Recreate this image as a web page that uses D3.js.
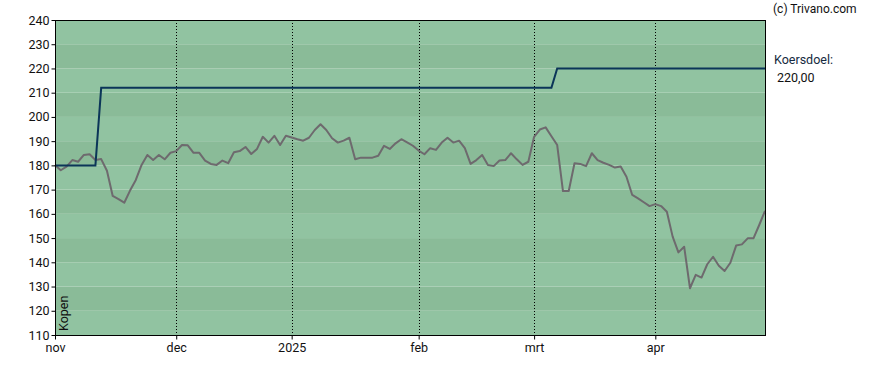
<!DOCTYPE html>
<html>
<head>
<meta charset="utf-8">
<script src="https://cdn.jsdelivr.net/npm/d3@7"></script>
<style>
  body { margin: 0; background: #fff; }
  svg text { font-family: Roboto, "Liberation Sans", sans-serif; }
</style>
</head>
<body>
<script>
// Daily closing prices, one per trading day (nov 2024 - apr 2025)
const prices = [
  180.2, 178.0, 179.5, 182.2, 181.5, 184.3, 184.6, 182.2, 182.6, 177.8,
  167.4, 166.1, 164.6, 169.6, 174.0, 180.2, 184.3, 182.2, 184.3, 182.5,
  185.2, 185.9, 188.4, 188.3, 185.2, 185.2, 182.0, 180.6, 180.2, 182.0,
  180.9, 185.4, 185.9, 187.6, 184.7, 186.8, 191.8, 189.4, 192.2, 188.4,
  192.2, 191.5, 190.8, 190.2, 191.4, 194.6, 197.0, 194.6, 191.2, 189.4,
  190.2, 191.4, 182.5, 183.2, 183.2, 183.2, 184.0, 188.1, 186.8, 189.1,
  190.8, 189.5, 188.1, 186.1, 184.6, 187.1, 186.4, 189.4, 191.4, 189.4,
  190.2, 187.1, 180.6, 182.2, 184.3, 180.2, 179.7, 182.0, 182.2, 185.0,
  182.5, 180.2, 181.5, 191.8, 194.8, 195.7, 192.0, 188.4, 169.4, 169.4,
  180.9, 180.6, 179.7, 185.0, 182.2, 181.1, 180.2, 179.1, 179.5, 175.3,
  167.8, 166.4, 164.8, 163.2, 164.0, 163.2, 160.9, 150.6, 144.1, 146.4,
  129.3, 134.8, 133.7, 139.2, 142.3, 138.6, 136.4, 139.8, 146.9, 147.4,
  149.9, 149.9, 155.4, 161.2
];

// Price target (koersdoel) steps, by trading-day index
const targetIdx = [0, 7, 8, 86, 87, 123];
const targetVals = [180, 180, 212, 212, 220, 220];

// Month ticks, by trading-day index
const monthIdx = [0, 21, 41, 63, 83, 104];
const monthLabels = ["nov", "dec", "2025", "feb", "mrt", "apr"];

const yTicks = d3.range(110, 241, 10);

const width = 888, height = 370;
const margin = { top: 20, right: 123, bottom: 35, left: 55 };

const svg = d3.select("body").append("svg")
  .attr("width", width)
  .attr("height", height);

const x = d3.scaleLinear()
  .domain([0, prices.length - 1])
  .range([margin.left, width - margin.right]);

const y = d3.scaleLinear()
  .domain([110, 240])
  .range([height - margin.bottom, margin.top]);

// striped background bands
svg.append("g").selectAll("rect")
  .data(yTicks.slice(0, -1))
  .join("rect")
  .attr("x", x(0))
  .attr("width", x(prices.length - 1) - x(0))
  .attr("y", d => y(d + 10))
  .attr("height", d => y(d) - y(d + 10))
  .attr("fill", d => ((d - 110) / 10) % 2 === 0 ? "#91c3a1" : "#8abb98");

// vertical dotted month lines
svg.append("g").selectAll("line")
  .data(monthIdx.slice(1))
  .join("line")
  .attr("x1", d => Math.round(x(d)) + 0.5)
  .attr("x2", d => Math.round(x(d)) + 0.5)
  .attr("y1", y(240))
  .attr("y2", y(110))
  .attr("stroke", "#000")
  .attr("stroke-dasharray", "1,2");

// price line
svg.append("path")
  .datum(prices)
  .attr("fill", "none")
  .attr("stroke", "#6e6a6e")
  .attr("stroke-width", 2)
  .attr("stroke-linejoin", "round")
  .attr("d", d3.line().x((d, i) => x(i)).y(d => y(d)));

// target line
svg.append("path")
  .datum(targetIdx)
  .attr("fill", "none")
  .attr("stroke", "#0b3558")
  .attr("stroke-width", 2)
  .attr("d", d3.line().x(d => x(d)).y((d, i) => y(targetVals[i])));

// frame
svg.append("rect")
  .attr("x", x(0) + 0.5)
  .attr("y", y(240) + 0.5)
  .attr("width", x(prices.length - 1) - x(0))
  .attr("height", y(110) - y(240))
  .attr("fill", "none")
  .attr("stroke", "#000");

// axes
const yAxis = svg.append("g")
  .attr("transform", `translate(${x(0) + 0.5},0)`)
  .call(d3.axisLeft(y).tickValues(yTicks).tickSize(4).tickPadding(2));

const xAxis = svg.append("g")
  .attr("transform", `translate(0,${y(110) + 0.5})`)
  .call(d3.axisBottom(x).tickValues(monthIdx)
    .tickFormat((d, i) => monthLabels[i]).tickSize(4).tickPadding(4));

[yAxis, xAxis].forEach(g => {
  g.select(".domain").remove();
  g.selectAll("line").attr("stroke", "#000");
  g.selectAll("text").attr("fill", "#111").style("font-size", "12.5px");
});

// "Kopen" label
svg.append("text")
  .attr("transform", `translate(${x(0) + 13},${y(110) - 4}) rotate(-90)`)
  .attr("fill", "#111")
  .style("font-size", "12.5px")
  .text("Kopen");

// right-hand annotations
svg.append("text")
  .attr("x", 773).attr("y", 13)
  .attr("fill", "#111")
  .style("font-size", "12px")
  .text("(c) Trivano.com");

svg.append("text")
  .attr("x", 774).attr("y", 64)
  .attr("fill", "#152a40")
  .style("font-size", "12.5px")
  .text("Koersdoel:");

svg.append("text")
  .attr("x", 777).attr("y", 82)
  .attr("fill", "#111")
  .style("font-size", "12.5px")
  .text("220,00");
</script>
</body>
</html>
